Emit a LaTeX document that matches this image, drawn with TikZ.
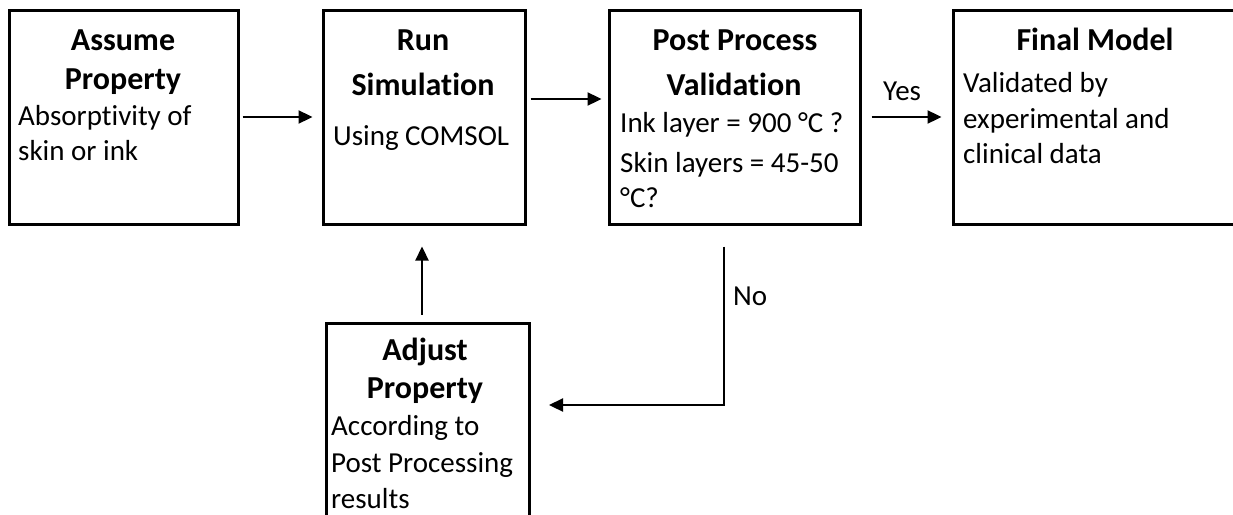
\documentclass[tikz,border=0pt]{standalone}
\usepackage{fontspec}
\setmainfont{Carlito}[Ligatures={NoCommon,NoRequired,NoContextual},Contextuals={NoAlternate}]
\usetikzlibrary{arrows.meta,calc}
% keep "t" and "i" as separate glyphs
\newcommand\nolig{\kern0pt}
\begin{document}
\begin{tikzpicture}[x=1pt,y=-1pt,
  box/.style={draw,line width=3pt,inner sep=0pt},
  conn/.style={line width=2.3pt,-{Triangle[length=14pt,width=13pt]}},
  head/.style={font=\fontsize{32}{38}\selectfont\bfseries,anchor=base,inner sep=0pt},
  body/.style={font=\fontsize{29}{35}\selectfont,anchor=base west,inner sep=0pt},
  lbl/.style={font=\fontsize{29}{35}\selectfont,anchor=base west,inner sep=0pt}]
\useasboundingbox (0,0) rectangle (1233,514);

% process boxes
\node[box,minimum width=229pt,minimum height=214pt] (assume) at (123.5,117) {};
\node[box,minimum width=202pt,minimum height=214pt] (run)    at (424,117) {};
\node[box,minimum width=251pt,minimum height=214pt] (post)   at (734.5,117) {};
\node[box,minimum width=347pt,minimum height=214pt] (final)  at (1126.5,117) {};
\node[box,minimum width=203pt,minimum height=277pt] (adjust) at (428,461.5) {};

% box texts
\node[head] (assume-t1) at (123,50) {Assume};
\node[head] (assume-t2) at (123,89) {Property};
\node[body] (assume-b1) at (18,125) {Absorpt\nolig ivity of};
\node[body] (assume-b2) at (18,160) {skin or ink};

\node[head] (run-t1) at (423,50) {Run};
\node[head] (run-t2) at (423,95) {Simulat\nolig ion};
\node[body] (run-b1) at (333,145) {Using COMSOL};

\node[head] (post-t1) at (735,50) {Post Process};
\node[head] (post-t2) at (734,95) {Validat\nolig ion};
\node[body] (post-b1) at (620,132) {Ink layer = 900 °C ?};
\node[body] (post-b2) at (620,172) {Skin layers = 45-50};
\node[body] (post-b3) at (620,207) {°C?};

\node[head] (final-t1) at (1095,50) {Final Model};
\node[body] (final-b1) at (963,92) {Validated by};
\node[body] (final-b2) at (963,128) {experimental and};
\node[body] (final-b3) at (963,163) {clinical data};

\node[head] (adjust-t1) at (425,360) {Adjust};
\node[head] (adjust-t2) at (425,398) {Property};
\node[body] (adjust-b1) at (331,435) {According to};
\node[body] (adjust-b2) at (331,472) {Post Processing};
\node[body] (adjust-b3) at (331,508) {results};

% connectors
\draw[conn] ([xshift=3pt]assume.east) -- ([xshift=-9pt]run.west);
\draw[conn] ([xshift=4pt,yshift=18pt]run.east) -- ([xshift=-6pt,yshift=18pt]post.west);
\draw[conn] ([xshift=10pt]post.east) -- ([xshift=-10pt]final.west);
\coordinate (bend) at (724,405);
\draw[conn] ([yshift=-21pt]post.south -| bend) -- (bend) -- ([xshift=18pt]adjust.east |- bend);
\draw[conn] ([yshift=7pt]adjust.north -| 422,0) -- ([yshift=-21pt]run.south -| 422,0);

% branch labels
\node[lbl] (yes) at (883,100) {Yes};
\node[lbl] (no)  at (733,305) {No};
\end{tikzpicture}
\end{document}
